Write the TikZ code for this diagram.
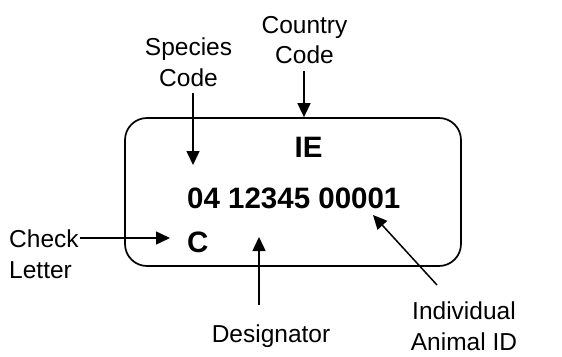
\documentclass[tikz,border=0pt]{standalone}
\usepackage{fontspec}
\setmainfont{Liberation Sans}
\usetikzlibrary{arrows.meta}
\begin{document}
\begin{tikzpicture}[x=1pt,y=-1pt,
  lbl/.style={inner sep=0pt,align=center,font=\fontsize{24.5}{30.5}\selectfont},
  big/.style={inner sep=0pt,font=\fontsize{29.5}{34}\selectfont\bfseries},
  arr/.style={line width=1.5pt,-{Triangle[length=14pt,width=13pt]}},
  tag/.style={draw,line width=1.7pt,rounded corners=22pt,minimum width=336pt,minimum height=148pt,inner sep=0pt}]
\useasboundingbox[fill=white] (0,0) rectangle (562,356);
\node[tag] (box) at (293,192) {};
\node[big,anchor=base] (ie) at (308.5,157) {IE};
\node[big,anchor=base west] (num) at (187,208) {04 12345 00001};
\node[big,anchor=base west] (c) at (187,252) {C};
\node[lbl] (country) at (304.5,40) {Country\\Code};
\node[lbl] (species) at (188.5,62) {Species\\Code};
\node[lbl,align=left,anchor=west] (check) at (9,254) {Check\\Letter};
\node[lbl,anchor=base] (desig) at (271,342) {Designator};
\node[lbl] (indiv) at (464,326) {Individual\\Animal ID};
\coordinate (spTip) at (193,165);
\coordinate (spTail) at (193,93);
\coordinate (ckTail) at (80,238);
\coordinate (ckTip) at (170,238);
\coordinate (dsTail) at (259,305);
\coordinate (dsTip) at (259,237);
\coordinate (idTail) at (437,285);
\coordinate (idTip) at (373,215);
\draw[arr] (country.south -| 304,0) ++(0,7) coordinate (ccTail) -- (ccTail |- box.north);
\draw[arr] (spTail) -- (spTip);
\draw[arr] (ckTail) -- (ckTip);
\draw[arr] (dsTail) -- (dsTip);
\draw[arr] (idTail) -- (idTip);
\end{tikzpicture}
\end{document}
